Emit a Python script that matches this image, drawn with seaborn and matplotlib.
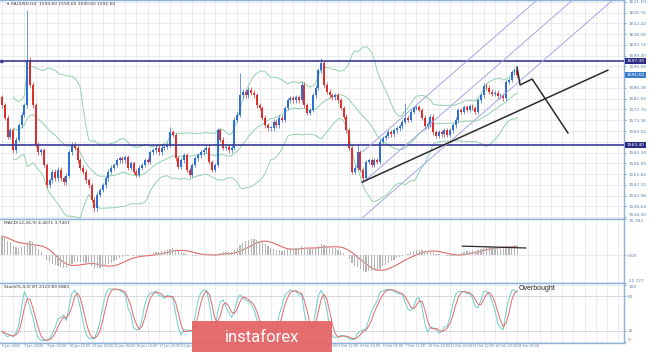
import numpy as np
import pandas as pd
import matplotlib.pyplot as plt
import seaborn as sns
from matplotlib.patches import FancyBboxPatch

# XAUUSD H4 closes left to right
closes = [
    1579.5, 1574.3, 1566.6, 1569.4, 1561.3, 1565.4, 1571.4, 1575.5, 1579.5, 1597.7,
    1587.6, 1579.5, 1563.4, 1560.5, 1561.3, 1555.3, 1547.2, 1549.2, 1552.5, 1550.0,
    1553.3, 1550.0, 1548.4, 1550.9, 1560.5, 1563.4, 1562.2, 1557.3, 1554.1, 1552.5,
    1549.2, 1547.2, 1541.2, 1537.9, 1543.2, 1545.2, 1547.2, 1550.0, 1552.5, 1554.1,
    1555.3, 1557.3, 1558.1, 1557.3, 1558.5, 1554.1, 1556.1, 1552.5, 1551.3, 1554.1,
    1555.3, 1557.3, 1556.5, 1560.5, 1561.3, 1562.2, 1560.5, 1562.2, 1562.6, 1563.4,
    1568.6, 1567.4, 1558.1, 1554.5, 1557.3, 1559.3, 1553.3, 1551.3, 1555.3, 1558.1,
    1559.3, 1560.5, 1561.3, 1562.2, 1556.5, 1553.3, 1555.3, 1569.4, 1565.4, 1562.2,
    1562.6, 1561.3, 1562.2, 1573.5, 1575.5, 1583.5, 1584.8, 1583.5, 1585.6, 1584.4,
    1583.5, 1579.5, 1578.3, 1574.3, 1571.4, 1570.2, 1570.2, 1572.7, 1571.4, 1574.3,
    1573.5, 1578.3, 1581.5, 1582.3, 1581.5, 1582.7, 1581.5, 1587.6, 1579.5, 1576.3,
    1577.5, 1583.5, 1586.4, 1593.6, 1596.5, 1587.6, 1584.8, 1583.5, 1582.7, 1583.5,
    1581.5, 1578.3, 1574.7, 1569.4, 1562.2, 1552.5, 1554.1, 1560.5, 1553.3, 1550.0,
    1556.5, 1557.3, 1555.3, 1557.3, 1556.5, 1564.6, 1566.2, 1567.0, 1568.6, 1567.8,
    1569.4, 1570.2, 1571.0, 1572.7, 1574.3, 1573.5, 1576.7, 1578.3, 1578.7, 1577.5,
    1574.3, 1571.0, 1571.8, 1574.7, 1568.6, 1567.0, 1568.6, 1567.8, 1569.4, 1567.4,
    1569.4, 1571.4, 1573.5, 1577.5, 1576.7, 1578.7, 1577.5, 1579.1, 1578.3, 1576.7,
    1581.5, 1583.5, 1587.2, 1586.4, 1584.8, 1584.0, 1584.4, 1583.1, 1583.5, 1582.3,
    1588.8, 1589.6, 1592.8, 1593.6, 1591.6,
]
first_open = 1582.7
wick = 1.0
high_marks = {9: 1617.9, 10: 1598.9, 60: 1570.6, 85: 1592.4, 114: 1598.5, 127: 1563.8, 144: 1580.3}
low_marks = {33: 1536.3, 129: 1548.4}

resistance = 1597.3
support = 1563.4

price_ticks = [1534.30, 1538.64, 1542.98, 1547.32, 1551.66, 1556.00, 1560.34, 1564.68,
               1569.02, 1573.36, 1577.70, 1582.04, 1586.38, 1590.72, 1595.06, 1599.40,
               1603.74, 1608.08, 1612.42, 1616.76, 1621.10]
time_labels = ['6 Jan 2020', '7 Jan 20:00', '9 Jan 04:00', '10 Jan 12:00', '13 Jan 20:00',
               '15 Jan 04:00', '16 Jan 12:00', '17 Jan 20:00', '21 Jan 04:00', '22 Jan 12:00',
               '23 Jan 20:00', '27 Jan 04:00', '28 Jan 12:00', '29 Jan 20:00', '31 Jan 04:00',
               '3 Feb 12:00', '4 Feb 20:00', '6 Feb 04:00', '7 Feb 12:00', '10 Feb 20:00',
               '12 Feb 04:00', '13 Feb 12:00', '14 Feb 20:00', '18 Feb 04:00']

# hand drawn lines: (bar, price) pairs
trend_line = [(128.6, 1548.4), (216.4, 1593.6)]
zigzag = [(183.9, 1594.9), (185.0, 1587.6), (189.3, 1590.0), (202.1, 1568.2)]
channel_starts = [1560.5, 1548.0, 1533.9]
channel_x0 = 128.6
channel_slope = 0.983
macd_line = [(164.3, 3.9), (187.1, 3.1)]
macd_lim = (-11.727, 15.382)

# ---- derived candle data ----
c = np.array(closes)
o = np.array([first_open] + closes[:-1])
h = np.maximum(o, c) + wick
l = np.minimum(o, c) - wick
for i, v in high_marks.items():
    h[i] = v
for i, v in low_marks.items():
    l[i] = v
idx = np.arange(len(c))
df = pd.DataFrame({'bar': idx, 'open': o, 'high': h, 'low': l, 'close': c})

mid = df['close'].rolling(20, min_periods=5).mean()
sd = df['close'].rolling(20, min_periods=5).std(ddof=0)
df['bb_mid'] = mid
df['bb_up'] = mid + 2 * sd
df['bb_lo'] = mid - 2 * sd


def ema(vals, span, seed):
    k = 2 / (span + 1)
    out, e = [], seed
    for v in vals:
        e = e + k * (v - e)
        out.append(e)
    return np.array(out)


df['macd'] = ema(c, 12, 1574.0) - ema(c, 26, 1565.7)
df['signal'] = df['macd'].rolling(9, min_periods=1).mean()

hh = df['high'].rolling(5, min_periods=1).max()
ll = df['low'].rolling(5, min_periods=1).min()
num = (df['close'] - ll).rolling(3, min_periods=1).sum()
den = (hh - ll).rolling(3, min_periods=1).sum()
df['k'] = 100 * num / den
df['d'] = df['k'].rolling(3, min_periods=1).mean()

# ---- figure ----
sns.set_theme(style='white')
plt.rcParams['font.family'] = ['DejaVu Sans']
fig = plt.figure(figsize=(6.65, 3.52), dpi=100)
W = 624 / 665
ax = fig.add_axes([0, 1 - 219 / 352, W, 219 / 352])
ax_m = fig.add_axes([0, 1 - 283 / 352, W, 64 / 352])
ax_s = fig.add_axes([0, 1 - 343 / 352, W, 60 / 352])

xlim = (-0.7, 222.1)
grid_c = '#e3e3ea'
frame_c = '#8db2d9'
tick_c = '#5b7ea6'
for a in (ax, ax_m, ax_s):
    a.set_xlim(*xlim)
    a.set_xticks(np.arange(0, 223, 4))
    a.grid(True, color=grid_c, lw=0.5)
    a.set_axisbelow(True)
    a.yaxis.tick_right()
    a.tick_params(axis='y', labelsize=3.2, colors=tick_c, length=1.5, pad=1.5, width=0.5)
    a.tick_params(axis='x', length=0)
    for s in a.spines.values():
        s.set_color(frame_c)
        s.set_linewidth(1.0)
    a.spines['left'].set_visible(False)
ax.set_xticklabels([])
ax_m.set_xticklabels([])

# main panel
ax.set_ylim(1533.5, 1621.9)
boxed = (resistance, support, c[-1])
ax.set_yticks(price_ticks)
ax.set_yticklabels(['' if min(abs(t - b) for b in boxed) < 1.6 else f'{t:.2f}'
                    for t in price_ticks])
ax.get_yticklabels()[0].set_va('bottom')

bb_col = '#93d3ab'
for col in ('bb_up', 'bb_mid', 'bb_lo'):
    sns.lineplot(data=df, x='bar', y=col, ax=ax, color=bb_col, lw=0.7, legend=False)

up = df['close'] >= df['open']
colors = np.where(up, '#2e6fd6', '#dc2f2f')
ax.vlines(df['bar'], df['low'], df['high'], colors=colors, lw=0.5, zorder=3)
body = np.maximum((df['close'] - df['open']).abs(), 0.25)
ax.bar(df['bar'], body, bottom=np.minimum(df['open'], df['close']), width=0.7,
       color=colors, lw=0, zorder=4)

for lvl in (resistance, support):
    ax.axhline(lvl, color='#3b3b94', lw=1.2, zorder=5)
    ax.text(1.004, lvl, f'{lvl:.2f}', transform=ax.get_yaxis_transform(), fontsize=3.2,
            color='white', va='center', ha='left',
            bbox=dict(boxstyle='square,pad=0.25', fc='#2d2d85', ec='none'))
ax.plot([0], [resistance], marker='>', ms=2, color='#3b3b94', clip_on=False)
ax.text(1.004, c[-1], f'{c[-1]:.2f}', transform=ax.get_yaxis_transform(), fontsize=3.2,
        color='white', va='center', ha='left',
        bbox=dict(boxstyle='square,pad=0.25', fc='#3c7dcc', ec='none'))

xs = np.array([channel_x0, xlim[1]])
for p0 in channel_starts:
    ax.plot(xs, p0 + channel_slope * (xs - channel_x0), color='#a5a5e6', lw=0.7, zorder=5)
ax.plot(*zip(*trend_line), color='#2b2b2b', lw=1.1, zorder=6)
ax.plot(*zip(*zigzag), color='#2b2b2b', lw=1.1, zorder=6)

ax.text(0.012, 0.992, f'\u25be XAUUSD,H4  {o[-1]:.2f} {h[-1]:.2f} {l[-1]:.2f} {c[-1]:.2f}',
        transform=ax.transAxes, fontsize=3.2, va='top', color='#333333')

# MACD panel
ax_m.set_ylim(*macd_lim)
ax_m.set_yticks([macd_lim[1], 0, macd_lim[0]])
ax_m.set_yticklabels([f'{macd_lim[1]:.3f}', '0.00', f'{macd_lim[0]:.3f}'])
ml = ax_m.get_yticklabels()
ml[0].set_va('top')
ml[2].set_va('bottom')
ax_m.bar(df['bar'], df['macd'], width=0.45, color='#b4b4b4', lw=0, zorder=3)
sns.lineplot(data=df, x='bar', y='signal', ax=ax_m, color='#e06a6a', lw=0.8, legend=False)
ax_m.plot(*zip(*macd_line), color='#2b2b2b', lw=0.9, zorder=6)
ax_m.text(0.006, 0.97, f'MACD(12,26,9) {df["macd"].iloc[-1]:.4f} {df["signal"].iloc[-1]:.4f}',
          transform=ax_m.transAxes, fontsize=3.2, va='top', color='#333333')

# Stochastic panel
ax_s.set_ylim(-1.75, 103.5)
ax_s.set_yticks([100, 80, 20, 0])
ax_s.set_yticklabels(['100', '80', '20', '0'])
sl = ax_s.get_yticklabels()
sl[0].set_va('top')
sl[3].set_va('bottom')
for lv in (80, 20):
    ax_s.axhline(lv, color='#c8c8d0', lw=0.5, ls='--')
sns.lineplot(data=df, x='bar', y='k', ax=ax_s, color='#6cd0cc', lw=0.7, legend=False)
sns.lineplot(data=df, x='bar', y='d', ax=ax_s, color='#e06a6a', lw=0.7, legend=False)
ax_s.text(0.006, 0.97, f'Stoch(5,3,3) {df["k"].iloc[-1]:.4f} {df["d"].iloc[-1]:.4f}',
          transform=ax_s.transAxes, fontsize=3.2, va='top', color='#333333')
ax_s.text(184.3, 93, 'Overbought', fontsize=5, color='#222222', family='Liberation Sans',
          va='center', ha='left')
lab = []
for i, t in enumerate(np.arange(0, 223, 4)):
    lab.append(time_labels[i // 2] if i % 2 == 0 and i // 2 < len(time_labels) else '')
ax_s.set_xticklabels(lab)
ax_s.tick_params(axis='x', labelsize=2.4, colors=tick_c, pad=1)
for t in ax_s.get_xticklabels():
    t.set_ha('left')
for a in (ax, ax_m, ax_s):
    a.set_xlabel('')
    a.set_ylabel('')

# instaforex badge
fig.patches.append(FancyBboxPatch((192 / 665, 0), 140 / 665, 31 / 352, boxstyle='square,pad=0',
                                  transform=fig.transFigure, fc='#e56565', ec='none', alpha=0.95,
                                  zorder=10))
fig.text(262 / 665, 15 / 352, 'instaforex', fontsize=12, color='white', family='Roboto',
         ha='center', va='center', zorder=11)

fig.savefig('out.png', dpi=100)
